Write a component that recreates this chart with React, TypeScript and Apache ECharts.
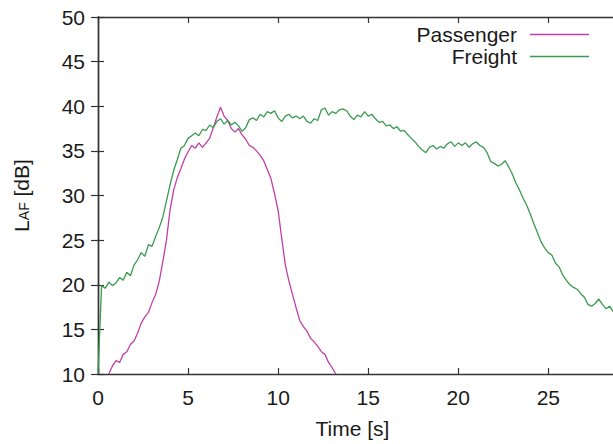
import React, { useEffect, useRef } from "react";
import * as echarts from "echarts";

// Passenger train: sampled every 0.2 s starting at 0.6 s
const passengerStart = 0.6;
const passengerStep = 0.2;
const passengerLevel = [
  10.0, 10.9, 11.5, 11.3, 12.2, 12.5, 13.3, 13.7, 14.6, 15.7,
  16.4, 16.9, 18.0, 18.9, 20.4, 22.6, 25.0, 28.4, 30.6, 32.0,
  33.0, 34.1, 34.9, 35.6, 35.3, 35.9, 35.4, 35.9, 36.4, 37.6,
  38.8, 39.9, 38.9, 38.4, 37.5, 37.1, 37.5, 36.8, 36.3, 35.6,
  35.4, 35.0, 34.5, 33.9, 32.9, 31.9, 30.2, 28.3, 25.2, 22.2,
  20.4, 18.9, 17.4, 16.0, 15.3, 14.8, 14.0, 13.6, 13.1, 12.5,
  12.2, 11.3, 10.7, 10.0,
];

// Freight train: sampled every 0.2 s starting at 0 s
const freightStart = 0.0;
const freightStep = 0.2;
const freightLevel = [
  10.0, 19.9, 19.6, 20.3, 19.9, 20.2, 20.8, 20.5, 21.4, 21.0,
  22.2, 22.8, 23.6, 23.2, 24.5, 24.3, 25.4, 26.4, 27.6, 29.4,
  31.2, 32.8, 34.0, 35.3, 35.6, 36.4, 36.7, 37.0, 36.7, 37.4,
  37.3, 37.9, 37.6, 38.3, 38.6, 38.0, 38.4, 37.9, 38.2, 37.8,
  37.2, 37.6, 38.5, 38.7, 38.4, 39.1, 38.8, 39.4, 39.2, 39.5,
  38.7, 38.3, 38.9, 39.1, 38.7, 38.9, 38.6, 38.9, 38.3, 38.1,
  38.6, 38.4, 39.6, 39.8, 39.0, 39.4, 39.2, 39.6, 39.7, 39.5,
  38.9, 38.5, 39.0, 38.8, 39.4, 38.9, 39.1, 38.6, 38.2, 38.3,
  37.8, 37.9, 37.5, 37.7, 37.2, 37.3, 36.8, 36.4, 36.0, 35.5,
  35.1, 34.8, 35.4, 35.6, 35.2, 35.5, 35.3, 35.8, 36.0, 35.5,
  35.9, 35.6, 35.9, 35.4, 35.8, 36.0, 35.6, 35.4, 34.8, 33.8,
  33.6, 33.3, 33.5, 33.9, 33.2, 32.4, 31.4, 30.6, 29.7, 28.9,
  27.9, 26.8, 25.8, 24.8, 24.1, 23.6, 23.3, 22.4, 22.0, 21.1,
  20.5, 20.0, 19.7, 19.5, 19.0, 18.6, 17.8, 17.6, 17.9, 18.4,
  17.8, 17.3, 17.6, 17.0,
];

const seriesNames = ["Passenger", "Freight"];
const xTicks = [0, 5, 10, 15, 20, 25];
const yTicks = [10, 15, 20, 25, 30, 35, 40, 45, 50];

const FONT = "Liberation Sans, Arial, Helvetica, sans-serif";
const TEXT = "#1a1a1a";
const AXIS = "#333333";

function toPairs(start: number, step: number, values: number[]) {
  return values.map((v, i) => [Math.round((start + i * step) * 100) / 100, v]);
}

export default function App() {
  const ref = useRef<HTMLDivElement>(null);
  useEffect(() => {
    if (!ref.current) return;
    document.documentElement.style.overflow = "hidden";
    document.body.style.overflow = "hidden";
    document.body.style.margin = "0";
    const chart = echarts.init(ref.current, undefined, { renderer: "svg" });
    const axisLine = { show: true, lineStyle: { color: AXIS, width: 1.4 } };
    const axisTick = { show: true, inside: true, length: 6, lineStyle: { color: AXIS, width: 1.2 } };
    const xMin = xTicks[0];
    const xMax = 28.7;
    const yMin = yTicks[0];
    const yMax = yTicks[yTicks.length - 1];
    chart.setOption({
      animation: false,
      backgroundColor: "#ffffff",
      textStyle: { fontFamily: FONT },
      grid: { left: 98, right: 5, top: 17, bottom: 68, containLabel: false },
      legend: {
        orient: "vertical",
        right: 31,
        top: 24,
        padding: 0,
        align: "right",
        icon: "rect",
        itemWidth: 59,
        itemHeight: 1.4,
        itemGap: 1,
        data: seriesNames,
        itemStyle: { borderWidth: 0 },
        textStyle: { fontSize: 21, color: TEXT, fontFamily: FONT, padding: [0, 8, 0, 0] },
      },
      xAxis: [
        {
          type: "value",
          position: "bottom",
          min: xMin,
          max: xMax,
          interval: 5,
          axisLine,
          axisTick,
          splitLine: { show: false },
          axisLabel: {
            fontSize: 21,
            color: TEXT,
            fontFamily: FONT,
            margin: 13,
            showMaxLabel: false,
            formatter: (v: number) => (xTicks.includes(v) ? String(v) : ""),
          },
          name: "Time [s]",
          nameLocation: "middle",
          nameGap: 44,
          nameTextStyle: {
            fontSize: 21,
            color: TEXT,
            fontFamily: FONT,
            padding: [0, 8, 0, 0],
          },
        },
        {
          type: "value",
          position: "top",
          min: xMin,
          max: xMax,
          interval: 5,
          axisLine,
          axisTick,
          splitLine: { show: false },
          axisLabel: { show: false },
        },
      ],
      yAxis: [
        {
          type: "value",
          position: "left",
          min: yMin,
          max: yMax,
          interval: 5,
          axisLine,
          axisTick,
          splitLine: { show: false },
          axisLabel: { fontSize: 21, color: TEXT, fontFamily: FONT, margin: 13 },
          name: "L{sub|AF} [dB]",
          nameLocation: "middle",
          nameGap: 66,
          nameTextStyle: {
            fontSize: 21,
            color: TEXT,
            fontFamily: FONT,
            rich: {
              sub: { fontSize: 14, color: TEXT, fontFamily: FONT, padding: [5, 0, 0, 0] },
            },
          },
        },
        {
          type: "value",
          position: "right",
          min: yMin,
          max: yMax,
          interval: 5,
          axisLine,
          axisTick: { ...axisTick, length: 7 },
          splitLine: { show: false },
          axisLabel: { show: false },
        },
      ],
      series: [
        {
          name: seriesNames[0],
          type: "line",
          xAxisIndex: 0,
          yAxisIndex: 0,
          symbol: "none",
          showSymbol: false,
          clip: true,
          color: "#c23fa6",
          lineStyle: { color: "#c23fa6", width: 1.3 },
          data: toPairs(passengerStart, passengerStep, passengerLevel),
        },
        {
          name: seriesNames[1],
          type: "line",
          xAxisIndex: 0,
          yAxisIndex: 0,
          symbol: "none",
          showSymbol: false,
          clip: true,
          color: "#3a9a50",
          lineStyle: { color: "#3a9a50", width: 1.3 },
          data: toPairs(freightStart, freightStep, freightLevel),
        },
      ],
    });
    return () => chart.dispose();
  }, []);
  return (
    <div
      ref={ref}
      style={{ position: "absolute", left: 0, top: 0, width: 620, height: 444, background: "#fff" }}
    />
  );
}
